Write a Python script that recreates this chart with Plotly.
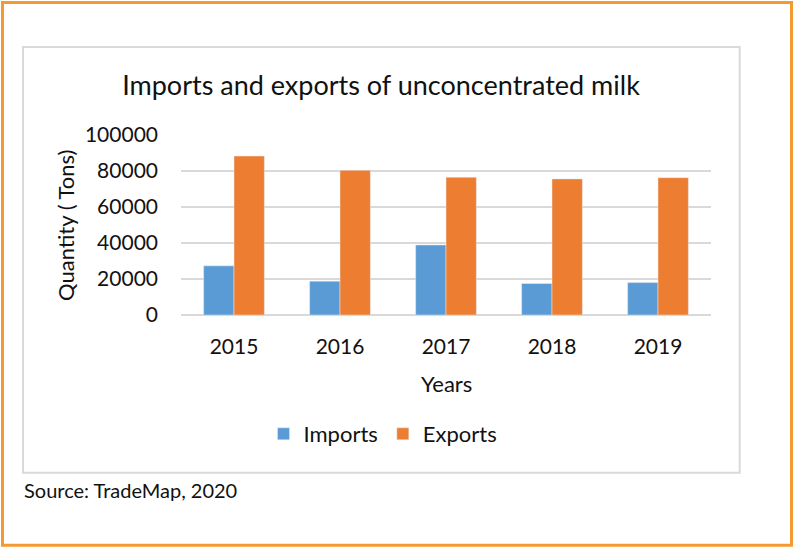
import plotly.graph_objects as go

# Trade quantities of unconcentrated milk (tons)
years = ["2015", "2016", "2017", "2018", "2019"]
imports = [27300, 18800, 38900, 17500, 18000]
exports = [88300, 80400, 76500, 75600, 76300]
y_ticks = [0, 20000, 40000, 60000, 80000, 100000]

W, H = 794, 547
L, R, T, B = 181, 711, 135, 315  # plot area in pixels
PW, PH = R - L, B - T


def px(x):
    return (x - L) / PW


def py(y):
    return (B - y) / PH


FONT = "Lato, Carlito, Calibri, sans-serif"
TXT = "#111111"

fig = go.Figure()
fig.add_trace(go.Bar(x=years, y=imports, name="Imports", marker_color="#5B9BD5"))
fig.add_trace(go.Bar(x=years, y=exports, name="Exports", marker_color="#ED7D31"))

fig.update_layout(
    width=W, height=H,
    margin=dict(l=L, r=W - R, t=T, b=H - B, autoexpand=False),
    paper_bgcolor="white", plot_bgcolor="white",
    barmode="group", bargap=0.427, bargroupgap=0,
    font=dict(family=FONT, color=TXT, size=21),
    title=dict(text="Imports and exports of unconcentrated milk",
               xref="container", yref="container",
               x=381 / W, y=1 - 86 / H, xanchor="center", yanchor="middle",
               font=dict(size=27, color=TXT, family=FONT)),
    legend=dict(orientation="h", x=px(383), y=py(434), xanchor="center", yanchor="middle",
                itemwidth=30, font=dict(size=22, color=TXT), bgcolor="rgba(0,0,0,0)"),
    xaxis=dict(showgrid=False, showline=False, zeroline=False, ticks="",
               ticklabelstandoff=17, tickfont=dict(size=21, color=TXT)),
    yaxis=dict(range=[0, 100000], tickvals=y_ticks, tickformat="d",
               showgrid=True, gridcolor="#D9D9D9", gridwidth=1.5,
               zeroline=True, zerolinecolor="#D9D9D9", zerolinewidth=1.5,
               showline=False, ticks="", ticklabelstandoff=22,
               tickfont=dict(size=21, color=TXT)),
)

# Axis titles and source note
fig.add_annotation(text="Years", x=px(446), y=py(383), xref="paper", yref="paper",
                   showarrow=False, xanchor="center", yanchor="middle",
                   font=dict(size=22, color=TXT))
fig.add_annotation(text="Quantity ( Tons)", x=px(65), y=py(226), xref="paper", yref="paper",
                   showarrow=False, textangle=-90, xanchor="center", yanchor="middle",
                   font=dict(size=22, color=TXT))
fig.add_annotation(text="Source: TradeMap, 2020", x=px(22), y=py(490), xref="paper", yref="paper",
                   showarrow=False, xanchor="left", yanchor="middle",
                   font=dict(size=20, color=TXT))

# Chart box and outer frame
fig.add_shape(type="rect", xref="paper", yref="paper",
              x0=px(23), x1=px(739.7), y0=py(472.7), y1=py(47),
              line=dict(color="#D9D9D9", width=2), layer="below")
fig.add_shape(type="rect", xref="paper", yref="paper",
              x0=px(2.5), x1=px(791.5), y0=py(545.3), y1=py(2.5),
              line=dict(color="#F59A30", width=3), layer="below")

fig.write_html("out.html")
